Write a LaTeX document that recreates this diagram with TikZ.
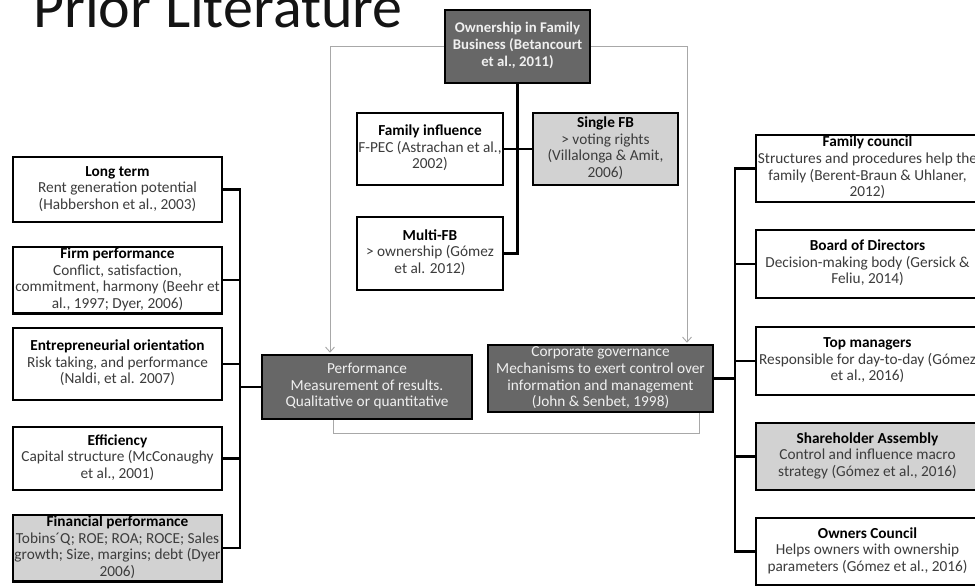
\documentclass[tikz,border=0pt]{standalone}
\usepackage{fontspec}
\setmainfont{Carlito}
\usetikzlibrary{arrows.meta}
\definecolor{darkbox}{HTML}{676767}
\definecolor{lightbox}{HTML}{D2D2D2}
\definecolor{thinc}{HTML}{A8A8A8}
\definecolor{bodytxt}{HTML}{3C3C3C}
\newcommand\bxt[1]{\makebox[0pt]{\begin{tabular}{@{}c@{}}#1\end{tabular}}}
\newcommand\hd[1]{\textcolor{black}{\textbf{#1}}}
\begin{document}
\begin{tikzpicture}[x=1pt,y=-1pt,
  box/.style={draw=black, line width=2.6pt, fill=white, inner sep=0pt, text=bodytxt,
    font=\fontsize{15.3}{16.6}\selectfont},
  lbox/.style={box, fill=lightbox},
  dbox/.style={box, fill=darkbox, text=white!94!black},
  conn/.style={line width=2.8pt, draw=black, line join=miter},
  thinline/.style={draw=thinc, line width=1pt},
  barb/.style={-{Straight Barb[length=5pt,width=9pt,line width=0.9pt]}, shorten >=1pt}
]
\useasboundingbox (0,0) rectangle (975,586);
\fill[white] (0,0) rectangle (975,586);

% title
\node[anchor=base west, inner sep=0pt, font=\fontsize{60}{60}\selectfont, text=black!92] (title) at (33,28) {Prior Literature};

% middle
\node[dbox, minimum width=145pt, minimum height=73pt, font=\bfseries\fontsize{14.8}{17}\selectfont] (own) at (517.5,46.5)
  {\bxt{Ownership in Family\\Business (Betancourt\\et al., 2011)}};
\node[box, minimum width=146pt, minimum height=72pt] (fi) at (430,149)
  {\bxt{\hd{Family influence}\\F-PEC (Astrachan et al.,\\2002)}};
\node[lbox, minimum width=145pt, minimum height=72pt] (sfb) at (605.5,149)
  {\bxt{\hd{Single FB}\\> voting rights\\(Villalonga \& Amit,\\2006)}};
\node[box, minimum width=146pt, minimum height=73pt] (multi) at (430,253.5)
  {\bxt{\hd{Multi-FB}\\> ownership (Gómez\\et al. 2012)}};
\node[dbox, minimum width=210pt, minimum height=64pt] (perf) at (367,387)
  {\bxt{Performance\\Measurement of results.\\Qualitative or quantitative}};
\node[dbox, minimum width=225pt, minimum height=67pt] (cg) at (600.5,378.5)
  {\bxt{Corporate governance\\Mechanisms to exert control over\\information and management\\(John \& Senbet, 1998)}};

% left column
\node[box, minimum width=209pt, minimum height=65pt] (lt) at (117.5,189.5)
  {\bxt{\hd{Long term}\\Rent generation potential\\(Habbershon et al., 2003)}};
\node[box, minimum width=209pt, minimum height=64pt] (fp) at (117.5,280)
  {\bxt{\hd{Firm performance}\\Conflict, satisfaction,\\commitment, harmony (Beehr et\\al., 1997;  Dyer, 2006)}};
\node[box, minimum width=209pt, minimum height=72pt] (eo) at (117.5,364)
  {\bxt{\hd{Entrepreneurial orientation}\\Risk taking, and performance\\(Naldi, et al. 2007)}};
\node[box, minimum width=209pt, minimum height=63pt] (eff) at (117.5,458.5)
  {\bxt{\hd{Efficiency}\\Capital structure (McConaughy\\et al., 2001)}};
\node[lbox, minimum width=209pt, minimum height=64pt] (fin) at (117.5,548)
  {\bxt{\hd{Financial performance}\\Tobins´Q; ROE; ROA; ROCE; Sales\\growth; Size, margins; debt (Dyer\\2006)}};

% right column
\node[box, minimum width=223pt, minimum height=67pt] (fc) at (867.5,168.5)
  {\bxt{\hd{Family council}\\Structures and procedures help the\\family (Berent-Braun \& Uhlaner,\\2012)}};
\node[box, minimum width=223pt, minimum height=68pt] (bd) at (867.5,264)
  {\bxt{\hd{Board of Directors}\\Decision-making body (Gersick \&\\Feliu, 2014)}};
\node[box, minimum width=223pt, minimum height=68pt] (tm) at (867.5,361)
  {\bxt{\hd{Top managers}\\Responsible for day-to-day (Gómez\\et al., 2016)}};
\node[lbox, minimum width=223pt, minimum height=67pt] (sa) at (867.5,456.5)
  {\bxt{\hd{Shareholder Assembly}\\Control and influence macro\\strategy (Gómez et al., 2016)}};
\node[box, minimum width=223pt, minimum height=67pt] (oc) at (867.5,551.5)
  {\bxt{\hd{Owners Council}\\Helps owners with ownership\\parameters (Gómez et al., 2016)}};

% black connectors
\coordinate (L) at (240,387);
\draw[conn] (lt.east) -| (L);
\draw[conn] (fin.east) -| (L);
\draw[conn] (fp.east) -- (fp.east -| L);
\draw[conn] (eo.east) -- (eo.east -| L);
\draw[conn] (eff.east) -- (eff.east -| L);
\draw[conn] (L) -- (perf.west);

\coordinate (R) at (735,378.5);
\draw[conn] (cg.east) -- (R);
\draw[conn] (fc.west) -| (R);
\draw[conn] (oc.west) -| (R);
\draw[conn] (bd.west) -- (bd.west -| R);
\draw[conn] (tm.west) -- (tm.west -| R);
\draw[conn] (sa.west) -- (sa.west -| R);

\draw[conn] (own.south) |- (multi.east);
\draw[conn] (fi.east) -- (sfb.west);

% thin grey connectors
\draw[thinline, barb] (own.west) -| ([xshift=-37pt]perf.north);
\draw[thinline, barb] (own.east) -| ([xshift=86.5pt]cg.north);
\draw[thinline] ([xshift=-34pt]perf.south) |- ([xshift=98.5pt,yshift=-20pt]cg.south) -- ([xshift=98.5pt]cg.south);
\end{tikzpicture}
\end{document}
